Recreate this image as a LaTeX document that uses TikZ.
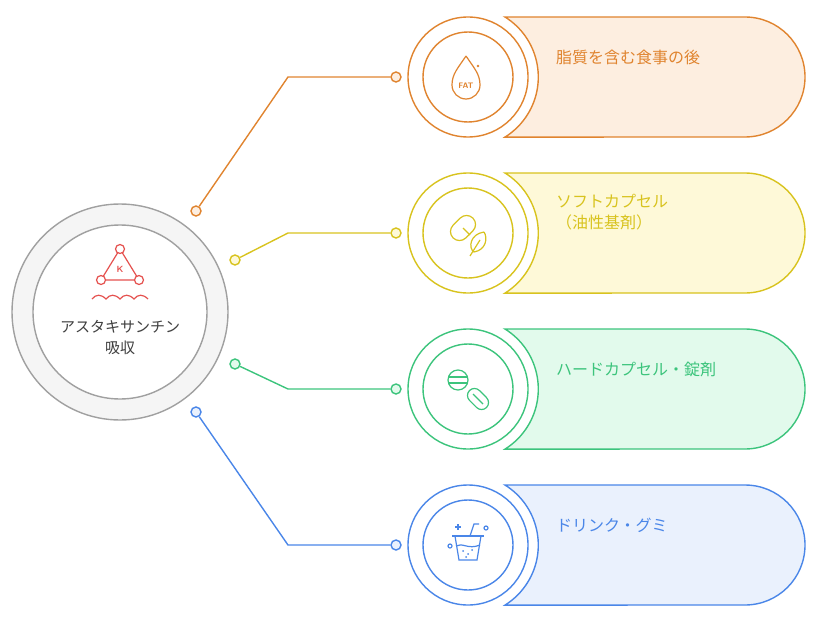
\documentclass[tikz,border=0pt]{standalone}
\usepackage{fontspec}
\setmainfont{Noto Sans CJK JP}
\begin{document}
\begin{tikzpicture}[x=1pt,y=-1pt,line width=1.4pt,
 ttl/.style={font=\fontsize{16}{21}\selectfont,anchor=north west,align=left},
 dot/.style={circle,draw,fill=white,inner sep=0,minimum size=10pt}]
\definecolor{cO}{HTML}{E0842F}\definecolor{fO}{HTML}{FDEEE0}
\definecolor{cY}{HTML}{D8C31E}\definecolor{fY}{HTML}{FEF9D8}
\definecolor{cG}{HTML}{3CC47C}\definecolor{fG}{HTML}{E2FAEC}
\definecolor{cB}{HTML}{4A86E8}\definecolor{fB}{HTML}{EAF1FD}
\definecolor{cR}{HTML}{E5514F}\definecolor{gr}{HTML}{A0A0A0}
\useasboundingbox (0,0) rectangle (818,623);
% center
\draw[gr,fill=gray!8] (120,312) circle (108);
\draw[gr,fill=white] (120,312) circle (87);
\node[font=\fontsize{15}{21}\selectfont,align=center,text=black!75] (c) at (120,338) {アスタキサンチン\\吸収};
\begin{scope}[cR,line width=1.2pt]
\draw (120,249)--(101,280)--(139,280)--cycle;
\draw[fill=white] (120,249) circle (4.5) (101,280) circle (4.5) (139,280) circle (4.5);
\node[font=\fontsize{9}{9}\selectfont\sffamily\bfseries,text=cR] at (120,269) {K};
\draw (92,299) .. controls (96,294) and (101,294) .. (106,299) .. controls (110,294) and (115,294) .. (120,299) .. controls (124,294) and (129,294) .. (134,299) .. controls (138,294) and (143,294) .. (148,299);
\end{scope}
% rows
\foreach \y/\c/\f/\dx/\dy/\n in {77/cO/fO/196/211/a,233/cY/fY/235/260/b,389/cG/fG/235/364/d,545/cB/fB/196/412/e}{
 \begin{scope}[\c]
 \pgfmathsetmacro\ya{\y-60}\pgfmathsetmacro\yb{\y+60}
 \draw[fill=\f] (505,\ya) arc[start angle=-58,end angle=58,radius=70.8] -- (745,\yb) arc[start angle=90,end angle=-90,radius=60] -- cycle;
 \draw[fill=white] (468,\y) circle (60);
 \draw[fill=white] (468,\y) circle (45);
 \node[dot,draw=\c,fill=\f] (p\n) at (\dx,\dy) {};
 \node[dot,draw=\c,fill=\f] (q\n) at (396,\y) {};
 \draw (p\n) -- (288,\y) -- (q\n);
 \end{scope}
}
\node[ttl,text=cO] (t1) at (552,46) {脂質を含む食事の後};
\node[ttl,text=cY] (t2) at (552,190) {ソフトカプセル\\（油性基剤）};
\node[ttl,text=cG] (t3) at (552,358) {ハードカプセル・錠剤};
\node[ttl,text=cB] (t4) at (552,514) {ドリンク・グミ};
% icon 1: FAT drop
\begin{scope}[cO,line width=1.2pt]
\draw (466,56) .. controls (458,68) and (452,74) .. (452,85) arc[start angle=180,end angle=0,radius=14] .. controls (480,74) and (474,68) .. (466,56);
\fill (478,66) circle (1.3);
\node[font=\fontsize{8}{8}\selectfont\sffamily\bfseries,text=cO] at (466,86) {FAT};
\end{scope}
% icon 2: capsule + leaf
\begin{scope}[cY,line width=1.2pt]
\draw[rounded corners=9pt,rotate around={45:(463,228)}] (449,219) rectangle (477,237);
\draw (463,228)--(470,235);
\draw[fill=white] (484,232) .. controls (470,234) and (468,248) .. (474,252) .. controls (486,250) and (488,238) .. (484,232);
\draw (470,256)--(480,240);
\end{scope}
% icon 3: pill + capsule
\begin{scope}[cG,line width=1.2pt]
\draw (458,380) circle (10); \draw (449,377)--(467,377) (449,383)--(467,383);
\draw[rounded corners=7pt,rotate around={-45:(478,399)}] (466,392) rectangle (490,406);
\draw (473,394)--(483,404);
\end{scope}
% icon 4: cup
\begin{scope}[cB,line width=1.2pt]
\draw (452,536)--(484,536);
\draw (455,536)--(459,560) -- (477,560) -- (481,536);
\draw (470,536)--(474,524)--(479,524);
\draw (456,546) .. controls (462,542) and (468,550) .. (480,545);
\fill (463,551) circle (1) (468,554) circle (1) (472,550) circle (1) (466,557) circle (1);
\draw (450,546) circle (2) (486,528) circle (2);
\draw (458,524)--(458,530) (455,527)--(461,527);
\end{scope}
\end{tikzpicture}
\end{document}
